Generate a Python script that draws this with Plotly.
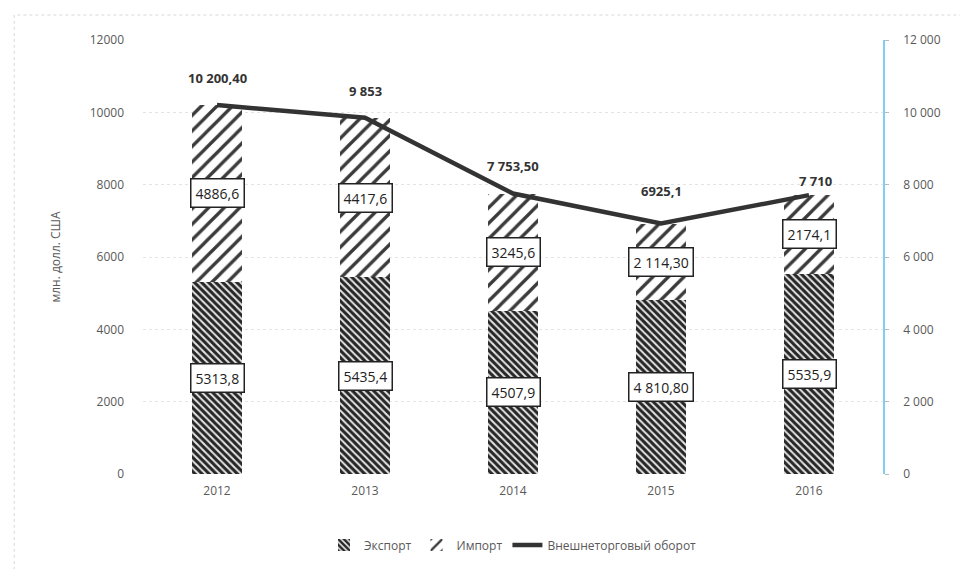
import plotly.graph_objects as go

years = ["2012", "2013", "2014", "2015", "2016"]
export_vals = [5313.8, 5435.4, 4507.9, 4810.8, 5535.9]
import_vals = [4886.6, 4417.6, 3245.6, 2114.3, 2174.1]
turnover_vals = [10200.4, 9853.0, 7753.5, 6925.1, 7710.0]
export_labels = ["5313,8", "5435,4", "4507,9", "4 810,80", "5535,9"]
import_labels = ["4886,6", "4417,6", "3245,6", "2 114,30", "2174,1"]
turnover_labels = ["10 200,40", "9 853", "7 753,50", "6925,1", "7 710"]
left_ticks = [0, 2000, 4000, 6000, 8000, 10000, 12000]

# label offsets (pixels above the line point)
label_shift = [27, 27, 28, 33, 14]

FONT = "Open Sans"

fig = go.Figure()
fig.add_trace(go.Bar(
    x=years, y=export_vals, name="Экспорт", width=0.34,
    marker=dict(color="white", line=dict(width=0),
                pattern=dict(shape="\\", fgcolor="#262626", bgcolor="#e6e6e6", fgopacity=1,
                             size=5, solidity=0.6)),
))
fig.add_trace(go.Bar(
    x=years, y=import_vals, name="Импорт", width=0.34,
    marker=dict(color="white", line=dict(width=0),
                pattern=dict(shape="/", fgcolor="#3a3a3a", bgcolor="white", fgopacity=1,
                             size=11, solidity=0.3)),
))
fig.add_trace(go.Scatter(
    x=years, y=turnover_vals, name="Внешнеторговый оборот", yaxis="y2",
    mode="lines", line=dict(color="#333333", width=4.5),
))

ann = []
base_font = dict(family=FONT, size=14, color="#222222")
for i, y in enumerate(years):
    ann.append(dict(x=i, y=export_vals[i] / 2, xref="x", yref="y", text=export_labels[i],
                    showarrow=False, bgcolor="white", bordercolor="#222222", borderwidth=1.5,
                    borderpad=4, font=base_font))
    ann.append(dict(x=i, y=export_vals[i] + import_vals[i] / 2, xref="x", yref="y",
                    text=import_labels[i], showarrow=False, bgcolor="white",
                    bordercolor="#222222", borderwidth=1.5, borderpad=4, font=base_font))
    ann.append(dict(x=i, y=turnover_vals[i], xref="x", yref="y2", text="<b>" + turnover_labels[i] + "</b>",
                    showarrow=False, yshift=label_shift[i], xshift=6 if i == 4 else 0,
                    font=dict(family=FONT, size=13, color="#333333")))

fig.update_layout(
    width=968, height=569,
    barmode="stack",
    separators=", ",
    plot_bgcolor="white", paper_bgcolor="white",
    margin=dict(l=135, r=93, t=32, b=103, autoexpand=False),
    font=dict(family=FONT, size=12, color="#595959"),
    xaxis=dict(type="category", range=[-0.5, 4.5], showgrid=False, showline=False, ticks="",
               automargin=False, ticklabelstandoff=8,
               tickfont=dict(family=FONT, size=12, color="#595959")),
    yaxis=dict(range=[0, 12000], tickvals=left_ticks, tickformat="d", automargin=False,
               showgrid=True, gridcolor="#e4e4e4", gridwidth=1, griddash="dot",
               zeroline=False, showline=False, ticklabelstandoff=18,
               title=dict(text="млн. долл. США", font=dict(family=FONT, size=12, color="#595959"), standoff=26)),
    yaxis2=dict(range=[0, 12000], tickvals=left_ticks, tickformat=",d", overlaying="y", side="right",
                automargin=False,
                showgrid=False, zeroline=False, showline=True, linecolor="#7fd0ee", linewidth=1.5,
                ticks="outside", ticklen=4, tickcolor="#bbbbbb", ticklabelstandoff=12),
    legend=dict(orientation="h", x=0.5, xanchor="center", y=-0.13, yanchor="top",
                font=dict(family=FONT, size=12, color="#595959"), traceorder="normal"),
    annotations=ann,
    shapes=[dict(type="rect", xref="paper", yref="paper", x0=-0.174, x1=1.3, y0=-0.4, y1=1.0576,
                 line=dict(color="#d8d8d8", width=1, dash="dot"), layer="below")],
)

fig.write_html("out.html")
